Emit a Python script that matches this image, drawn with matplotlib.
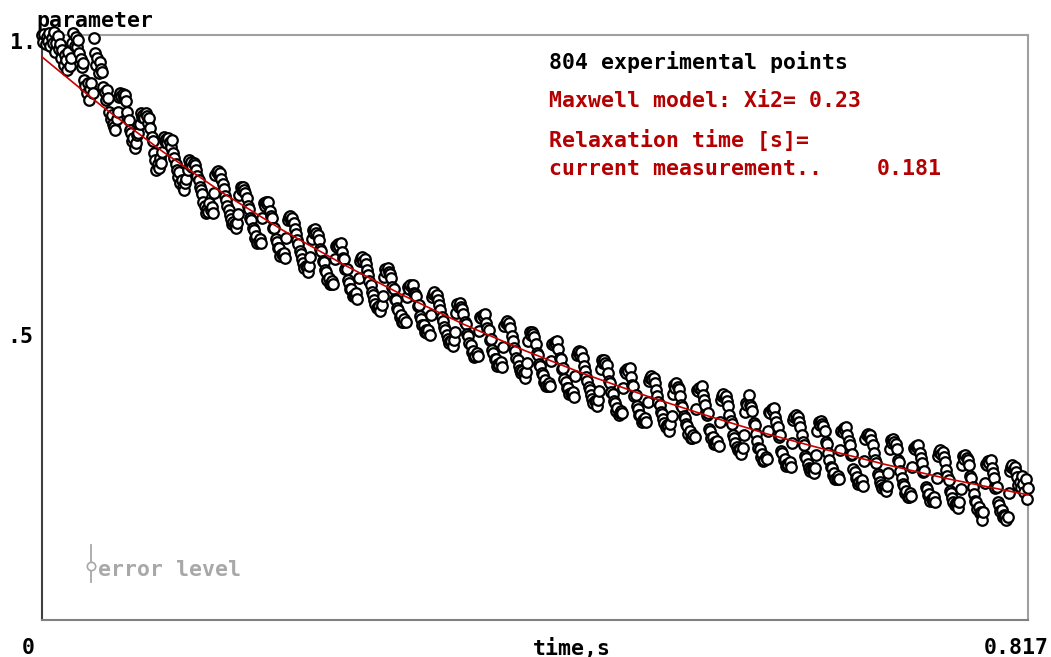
import numpy as np
import matplotlib
matplotlib.use("Agg")
import matplotlib.pyplot as plt

# ---------------- data ----------------
signal = [
    1.014, 1.002, 1.016, 0.998, 1.010, 1.004, 1.018, 0.995, 1.008, 1.000, 1.019, 0.985, 1.001, 1.012, 0.990, 0.998, 0.975, 0.988, 0.962, 0.980,
    0.970, 0.953, 0.985, 0.960, 0.975, 1.000, 1.017, 0.995, 1.010, 0.993, 1.005, 0.983, 0.972, 0.958, 0.965, 0.936, 0.925, 0.913, 0.930, 0.901,
    0.920, 0.930, 0.913, 1.009, 0.983, 0.962, 0.975, 0.948, 0.968, 0.955, 0.950, 0.924, 0.915, 0.901, 0.918, 0.905, 0.880, 0.868, 0.875, 0.860,
    0.855, 0.849, 0.868, 0.880, 0.906, 0.913, 0.908, 0.911, 0.906, 0.910, 0.900, 0.880, 0.866, 0.850, 0.844, 0.830, 0.836, 0.818, 0.826, 0.840,
    0.844, 0.860, 0.879, 0.872, 0.876, 0.870, 0.879, 0.874, 0.862, 0.870, 0.852, 0.837, 0.830, 0.809, 0.798, 0.780, 0.790, 0.784, 0.800, 0.793,
    0.812, 0.837, 0.830, 0.834, 0.827, 0.836, 0.829, 0.820, 0.832, 0.809, 0.800, 0.790, 0.780, 0.768, 0.776, 0.757, 0.762, 0.750, 0.745, 0.757,
    0.765, 0.780, 0.797, 0.789, 0.794, 0.785, 0.792, 0.788, 0.780, 0.770, 0.762, 0.750, 0.745, 0.738, 0.725, 0.718, 0.705, 0.712, 0.708, 0.722,
    0.711, 0.716, 0.706, 0.741, 0.772, 0.776, 0.779, 0.772, 0.775, 0.765, 0.756, 0.747, 0.735, 0.728, 0.717, 0.711, 0.702, 0.695, 0.687, 0.690,
    0.687, 0.679, 0.688, 0.703, 0.736, 0.750, 0.745, 0.751, 0.745, 0.740, 0.732, 0.717, 0.713, 0.696, 0.693, 0.679, 0.676, 0.663, 0.665, 0.654,
    0.655, 0.660, 0.654, 0.697, 0.722, 0.718, 0.724, 0.721, 0.725, 0.709, 0.700, 0.697, 0.679, 0.680, 0.661, 0.655, 0.644, 0.645, 0.631, 0.634,
    0.632, 0.637, 0.628, 0.663, 0.693, 0.698, 0.701, 0.694, 0.697, 0.688, 0.678, 0.669, 0.658, 0.651, 0.640, 0.635, 0.626, 0.618, 0.611, 0.614,
    0.612, 0.604, 0.614, 0.629, 0.661, 0.676, 0.671, 0.677, 0.671, 0.667, 0.658, 0.643, 0.640, 0.623, 0.620, 0.607, 0.604, 0.590, 0.593, 0.582,
    0.582, 0.587, 0.582, 0.625, 0.649, 0.646, 0.652, 0.649, 0.653, 0.638, 0.628, 0.625, 0.608, 0.609, 0.590, 0.585, 0.574, 0.574, 0.561, 0.564,
    0.561, 0.566, 0.557, 0.592, 0.622, 0.627, 0.630, 0.623, 0.626, 0.617, 0.607, 0.598, 0.587, 0.580, 0.569, 0.564, 0.555, 0.547, 0.540, 0.543,
    0.544, 0.536, 0.546, 0.561, 0.594, 0.609, 0.604, 0.610, 0.604, 0.600, 0.592, 0.577, 0.574, 0.557, 0.554, 0.541, 0.538, 0.525, 0.528, 0.517,
    0.517, 0.522, 0.517, 0.560, 0.577, 0.574, 0.580, 0.577, 0.581, 0.566, 0.565, 0.562, 0.545, 0.546, 0.527, 0.522, 0.511, 0.512, 0.499, 0.502,
    0.498, 0.503, 0.494, 0.529, 0.560, 0.565, 0.568, 0.561, 0.564, 0.555, 0.546, 0.537, 0.526, 0.519, 0.508, 0.503, 0.494, 0.487, 0.480, 0.483,
    0.483, 0.475, 0.485, 0.500, 0.533, 0.548, 0.543, 0.549, 0.543, 0.539, 0.531, 0.516, 0.513, 0.496, 0.493, 0.480, 0.477, 0.464, 0.467, 0.456,
    0.458, 0.463, 0.458, 0.501, 0.526, 0.523, 0.529, 0.526, 0.530, 0.515, 0.506, 0.503, 0.486, 0.487, 0.468, 0.463, 0.452, 0.453, 0.440, 0.443,
    0.442, 0.447, 0.438, 0.474, 0.510, 0.515, 0.518, 0.511, 0.515, 0.506, 0.492, 0.483, 0.472, 0.466, 0.455, 0.450, 0.441, 0.434, 0.428, 0.431,
    0.428, 0.420, 0.430, 0.446, 0.484, 0.499, 0.494, 0.500, 0.495, 0.491, 0.478, 0.463, 0.460, 0.444, 0.441, 0.428, 0.425, 0.412, 0.416, 0.405,
    0.405, 0.410, 0.405, 0.449, 0.479, 0.476, 0.482, 0.479, 0.484, 0.469, 0.455, 0.452, 0.435, 0.437, 0.418, 0.413, 0.402, 0.403, 0.391, 0.394,
    0.391, 0.396, 0.387, 0.423, 0.459, 0.464, 0.467, 0.460, 0.464, 0.455, 0.441, 0.432, 0.421, 0.415, 0.404, 0.399, 0.390, 0.383, 0.377, 0.380,
    0.379, 0.371, 0.381, 0.397, 0.435, 0.450, 0.445, 0.451, 0.446, 0.442, 0.429, 0.414, 0.411, 0.395, 0.392, 0.379, 0.376, 0.363, 0.367, 0.356,
    0.358, 0.363, 0.358, 0.402, 0.432, 0.429, 0.435, 0.432, 0.437, 0.422, 0.408, 0.405, 0.388, 0.390, 0.371, 0.366, 0.355, 0.356, 0.344, 0.347,
    0.346, 0.351, 0.343, 0.378, 0.414, 0.420, 0.423, 0.417, 0.420, 0.411, 0.398, 0.389, 0.378, 0.372, 0.361, 0.357, 0.348, 0.341, 0.335, 0.338,
    0.336, 0.328, 0.339, 0.354, 0.392, 0.408, 0.403, 0.410, 0.404, 0.400, 0.388, 0.373, 0.370, 0.354, 0.351, 0.339, 0.336, 0.323, 0.327, 0.316,
    0.316, 0.321, 0.317, 0.366, 0.399, 0.397, 0.403, 0.401, 0.405, 0.390, 0.382, 0.373, 0.356, 0.358, 0.331, 0.327, 0.316, 0.317, 0.305, 0.308,
    0.305, 0.310, 0.302, 0.343, 0.382, 0.388, 0.391, 0.385, 0.388, 0.379, 0.371, 0.356, 0.345, 0.339, 0.320, 0.316, 0.307, 0.300, 0.294, 0.297,
    0.296, 0.288, 0.299, 0.320, 0.361, 0.377, 0.372, 0.390, 0.373, 0.369, 0.362, 0.341, 0.338, 0.322, 0.311, 0.299, 0.296, 0.283, 0.287, 0.276,
    0.278, 0.283, 0.279, 0.328, 0.361, 0.359, 0.365, 0.363, 0.367, 0.352, 0.344, 0.335, 0.318, 0.320, 0.293, 0.289, 0.278, 0.279, 0.267, 0.270,
    0.269, 0.274, 0.266, 0.307, 0.346, 0.352, 0.355, 0.349, 0.352, 0.343, 0.335, 0.320, 0.309, 0.303, 0.284, 0.280, 0.271, 0.264, 0.258, 0.261,
    0.261, 0.254, 0.264, 0.286, 0.327, 0.343, 0.338, 0.345, 0.339, 0.336, 0.328, 0.308, 0.305, 0.289, 0.278, 0.266, 0.263, 0.251, 0.255, 0.244,
    0.244, 0.250, 0.245, 0.295, 0.328, 0.326, 0.332, 0.330, 0.334, 0.320, 0.311, 0.303, 0.286, 0.288, 0.261, 0.257, 0.246, 0.248, 0.236, 0.239,
    0.236, 0.242, 0.233, 0.275, 0.314, 0.320, 0.323, 0.317, 0.320, 0.312, 0.303, 0.289, 0.278, 0.272, 0.253, 0.249, 0.240, 0.234, 0.228, 0.231,
    0.230, 0.223, 0.233, 0.255, 0.296, 0.312, 0.307, 0.314, 0.308, 0.305, 0.297, 0.277, 0.274, 0.258, 0.247, 0.235, 0.232, 0.220, 0.224, 0.213,
    0.214, 0.220, 0.215, 0.265, 0.298, 0.296, 0.302, 0.300, 0.304, 0.290, 0.281, 0.273, 0.256, 0.258, 0.231, 0.227, 0.216, 0.218, 0.206, 0.209,
    0.207, 0.213, 0.204, 0.246, 0.285, 0.291, 0.294, 0.288, 0.291, 0.283, 0.274, 0.260, 0.249, 0.243, 0.224, 0.220, 0.211, 0.205, 0.199, 0.202,
    0.202, 0.195, 0.205, 0.227, 0.268, 0.284, 0.279, 0.286, 0.280, 0.277, 0.269, 0.249, 0.246, 0.230, 0.219, 0.207, 0.204, 0.192, 0.196, 0.185,
    0.187, 0.173, 0.188, 0.238, 0.271, 0.269, 0.275, 0.273, 0.277, 0.263, 0.254, 0.246, 0.229, 0.231, 0.204, 0.200, 0.189, 0.191, 0.179, 0.182,
    0.181, 0.173, 0.178, 0.220, 0.259, 0.265, 0.268, 0.262, 0.265, 0.257, 0.248, 0.234, 0.240, 0.228, 0.250, 0.236, 0.222, 0.245, 0.210, 0.228,
]

# Maxwell model fit curve
fit_t = [0.0, 0.05, 0.10, 0.15, 0.20, 0.25, 0.30, 0.35, 0.40, 0.45, 0.50,
         0.55, 0.60, 0.65, 0.70, 0.75, 0.80, 0.817]
fit_v = [0.976, 0.890, 0.812, 0.740, 0.675, 0.616, 0.562, 0.512, 0.467, 0.426, 0.389,
         0.355, 0.323, 0.295, 0.269, 0.245, 0.224, 0.217]

t_max = 0.817
y_max = 1.014
y_tick_labels = ["1.", ".5"]
y_tick_values = [1.0, 0.5]
x_labels = ["0", "time,s", "0.817"]
info_black = "804 experimental points"
info_red = ["Maxwell model: Xi2= 0.23", "Relaxation time [s]=", "current measurement.."]
tau_text = "0.181"
err_text = "error level"
title_text = "parameter"

# ---------------- drawing ----------------
W, H = 1051, 657
fig = plt.figure(figsize=(W / 100, H / 100), dpi=100)
fig.patch.set_facecolor("white")
L, R, T, B = 42, 1028, 35, 620
ax = fig.add_axes([L / W, 1 - B / H, (R - L) / W, (B - T) / H])
ax.set_xlim(0, t_max)
ax.set_ylim(0, y_max)
ax.set_xticks([])
ax.set_yticks([])
ax.spines["left"].set_color("#404040")
ax.spines["bottom"].set_color("#808080")
ax.spines["top"].set_color("#a0a0a0")
ax.spines["right"].set_color("#a0a0a0")
for s in ax.spines.values():
    s.set_linewidth(1.5)

mono = "DejaVu Sans Mono"
fs = 15.5
red = "#b40000"

t = np.linspace(0, t_max, len(signal))
ax.plot(t, signal, "o", ms=7.6, mfc="white", mec="black", mew=1.6,
        clip_on=False, zorder=4)
ax.plot(fit_t, fit_v, "-", color="#c80000", lw=1.2, zorder=5, clip_on=False)

def ax_xy(px, py):
    return (px - L) / (R - L), (B - py) / (B - T)

tr = ax.transAxes
x0, y0 = ax_xy(36, 21)
ax.text(x0, y0, title_text, transform=tr, family=mono, weight="bold", fontsize=fs,
        ha="left", va="center", color="black", zorder=1, clip_on=False)

for lab, v in zip(y_tick_labels, y_tick_values):
    py = 43 if v == 1.0 else 337
    px = 36 if v == 1.0 else 33
    xx, yy = ax_xy(px, py)
    ax.text(xx, yy, lab, transform=tr, family=mono, weight="bold", fontsize=fs,
            ha="right", va="center", color="black", clip_on=False)

xx, yy = ax_xy(28, 648)
ax.text(xx, yy, x_labels[0], transform=tr, family=mono, weight="bold", fontsize=fs,
        ha="center", va="center", color="black", clip_on=False)
xx, yy = ax_xy(572, 648)
ax.text(xx, yy, x_labels[1], transform=tr, family=mono, weight="bold", fontsize=fs,
        ha="center", va="center", color="black", clip_on=False)
xx, yy = ax_xy(1049, 648)
ax.text(xx, yy, x_labels[2], transform=tr, family=mono, weight="bold", fontsize=fs,
        ha="right", va="center", color="black", clip_on=False)

xx, yy = ax_xy(549, 62)
ax.text(xx, yy, info_black, transform=tr, family=mono, weight="bold", fontsize=fs,
        ha="left", va="center", color="black", zorder=6)
for txt, py in zip(info_red, [101, 140, 169]):
    xx, yy = ax_xy(549, py)
    ax.text(xx, yy, txt, transform=tr, family=mono, weight="bold", fontsize=fs,
            ha="left", va="center", color=red, zorder=6)
xx, yy = ax_xy(877, 169)
ax.text(xx, yy, tau_text, transform=tr, family=mono, weight="bold", fontsize=fs,
        ha="left", va="center", color=red, zorder=6)

# error level symbol
ex, ey_top = ax_xy(91, 545)
_, ey_bot = ax_xy(91, 582)
_, ey_mid = ax_xy(91, 566)
ax.plot([ex, ex], [ey_bot, ey_top], transform=tr, color="#a8a8a8", lw=1.3)
ax.plot([ex], [ey_mid], "o", transform=tr, ms=6, mfc="white", mec="#a8a8a8", mew=1.2)
xx, yy = ax_xy(98, 570)
ax.text(xx, yy, err_text, transform=tr, family=mono, fontsize=fs, weight="bold",
        ha="left", va="center", color="#a8a8a8")

fig.savefig("out.png", dpi=100, facecolor="white")
